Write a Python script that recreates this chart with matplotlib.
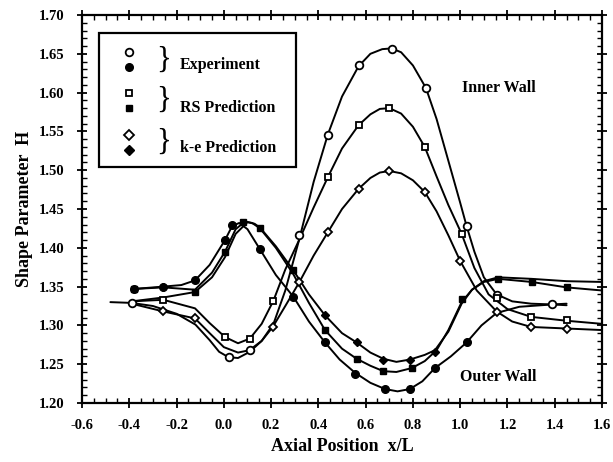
import matplotlib
matplotlib.use("Agg")
import matplotlib.pyplot as plt
from matplotlib.patches import Rectangle
from matplotlib.ticker import MultipleLocator, FormatStrFormatter

plt.rcParams['font.family'] = ['Liberation Serif', 'DejaVu Serif']

# ---------------- curves ----------------
# Inner wall (open markers)
in_exp_x = [-0.48, -0.39, -0.30, -0.20, -0.12, -0.06, -0.02, 0.02, 0.06, 0.11, 0.16, 0.21, 0.26, 0.32, 0.38, 0.44,
            0.50, 0.57, 0.62, 0.67, 0.71, 0.75, 0.80, 0.855, 0.90, 0.95, 1.00, 1.027, 1.06, 1.10, 1.154, 1.22, 1.30, 1.39, 1.45]
in_exp_y = [1.330, 1.329, 1.325, 1.315, 1.301, 1.281, 1.266, 1.259, 1.258, 1.266, 1.280, 1.302, 1.345, 1.412, 1.485, 1.546,
            1.595, 1.634, 1.650, 1.656, 1.657, 1.652, 1.635, 1.606, 1.566, 1.512, 1.458, 1.428, 1.395, 1.362, 1.340, 1.331, 1.328, 1.327, 1.326]
in_exp_mx = [-0.39, 0.02, 0.11, 0.32, 0.44, 0.57, 0.71, 0.855, 1.027, 1.154, 1.39]
in_exp_my = [1.329, 1.259, 1.268, 1.416, 1.546, 1.636, 1.656, 1.606, 1.428, 1.339, 1.327]

in_rs_x = [-0.39, -0.256, -0.122, -0.06, 0.005, 0.06, 0.11, 0.16, 0.21, 0.26, 0.32, 0.38, 0.44, 0.50, 0.57,
           0.62, 0.66, 0.70, 0.75, 0.80, 0.85, 0.90, 0.95, 1.006, 1.06, 1.12, 1.20, 1.30, 1.45, 1.60]
in_rs_y = [1.331, 1.333, 1.322, 1.303, 1.285, 1.277, 1.283, 1.302, 1.332, 1.372, 1.411, 1.452, 1.491, 1.528, 1.558,
           1.572, 1.579, 1.580, 1.573, 1.556, 1.530, 1.492, 1.455, 1.418, 1.374, 1.340, 1.321, 1.311, 1.306, 1.302]
in_rs_mx = [-0.256, 0.005, 0.11, 0.21, 0.44, 0.57, 0.70, 0.85, 1.006, 1.154, 1.30, 1.45]
in_rs_my = [1.333, 1.285, 1.283, 1.332, 1.491, 1.558, 1.580, 1.530, 1.418, 1.335, 1.311, 1.307]

in_ke_x = [-0.39, -0.256, -0.122, -0.06, 0.00, 0.06, 0.108, 0.16, 0.207, 0.26, 0.32, 0.38, 0.44, 0.50, 0.57,
           0.62, 0.66, 0.70, 0.75, 0.80, 0.85, 0.90, 0.95, 1.0, 1.07, 1.154, 1.22, 1.30, 1.45, 1.60]
in_ke_y = [1.328, 1.318, 1.309, 1.290, 1.272, 1.265, 1.268, 1.280, 1.298, 1.325, 1.356, 1.390, 1.420, 1.450, 1.476,
           1.490, 1.497, 1.499, 1.496, 1.487, 1.472, 1.447, 1.416, 1.383, 1.345, 1.318, 1.305, 1.298, 1.296, 1.294]
in_ke_mx = [-0.256, -0.122, 0.207, 0.32, 0.44, 0.57, 0.70, 0.85, 1.0, 1.154, 1.30, 1.45]
in_ke_my = [1.318, 1.309, 1.298, 1.356, 1.420, 1.476, 1.499, 1.472, 1.383, 1.317, 1.298, 1.296]

# Outer wall (filled markers)
out_exp_x = [-0.38, -0.256, -0.18, -0.122, -0.06, 0.005, 0.035, 0.065, 0.10, 0.153, 0.22, 0.294, 0.36, 0.428, 0.49, 0.555,
             0.62, 0.682, 0.735, 0.787, 0.84, 0.893, 0.96, 1.027, 1.09, 1.154, 1.25, 1.39, 1.45]
out_exp_y = [1.347, 1.350, 1.352, 1.358, 1.378, 1.410, 1.428, 1.432, 1.424, 1.398, 1.365, 1.337, 1.305, 1.278, 1.256, 1.239,
             1.226, 1.218, 1.215, 1.218, 1.228, 1.245, 1.260, 1.278, 1.300, 1.316, 1.324, 1.327, 1.328]
out_exp_mx = [-0.38, -0.256, -0.122, 0.005, 0.033, 0.153, 0.294, 0.428, 0.555, 0.682, 0.787, 0.893, 1.027]
out_exp_my = [1.347, 1.350, 1.358, 1.410, 1.429, 1.398, 1.337, 1.278, 1.238, 1.218, 1.218, 1.245, 1.278]

out_rs_x = [-0.38, -0.256, -0.122, -0.05, 0.005, 0.05, 0.09, 0.12, 0.153, 0.22, 0.294, 0.36, 0.428, 0.50, 0.562,
            0.62, 0.675, 0.73, 0.795, 0.85, 0.90, 0.95, 1.006, 1.05, 1.10, 1.161, 1.302, 1.45, 1.60]
out_rs_y = [1.347, 1.349, 1.346, 1.368, 1.395, 1.424, 1.434, 1.432, 1.425, 1.400, 1.366, 1.329, 1.294, 1.270, 1.257,
            1.248, 1.241, 1.240, 1.245, 1.254, 1.268, 1.294, 1.330, 1.346, 1.356, 1.360, 1.356, 1.349, 1.345]
out_rs_mx = [-0.38, -0.122, 0.005, 0.082, 0.153, 0.294, 0.428, 0.562, 0.675, 0.795, 1.006, 1.161, 1.302, 1.45]
out_rs_my = [1.347, 1.343, 1.395, 1.433, 1.425, 1.371, 1.294, 1.257, 1.241, 1.245, 1.334, 1.360, 1.356, 1.349]

out_ke_x = [-0.39, -0.256, -0.122, -0.05, 0.005, 0.05, 0.10, 0.13, 0.153, 0.22, 0.294, 0.36, 0.428, 0.50, 0.562,
            0.62, 0.675, 0.73, 0.787, 0.85, 0.893, 0.95, 1.006, 1.05, 1.10, 1.161, 1.302, 1.45, 1.60]
out_ke_y = [1.331, 1.336, 1.343, 1.362, 1.388, 1.418, 1.433, 1.431, 1.426, 1.402, 1.371, 1.340, 1.313, 1.290, 1.278,
            1.265, 1.257, 1.253, 1.256, 1.262, 1.268, 1.292, 1.328, 1.346, 1.357, 1.362, 1.360, 1.357, 1.356]
out_ke_mx = [-0.256, 0.005, 0.428, 0.562, 0.675, 0.787, 0.893]
out_ke_my = [1.349, 1.410, 1.313, 1.278, 1.256, 1.256, 1.266]

x_ticks = [-0.6, -0.4, -0.2, 0.0, 0.2, 0.4, 0.6, 0.8, 1.0, 1.2, 1.4, 1.6]
y_ticks = [1.20, 1.25, 1.30, 1.35, 1.40, 1.45, 1.50, 1.55, 1.60, 1.65, 1.70]

legend_labels = ["Experiment", "RS Prediction", "k-e Prediction"]
wall_labels = ["Inner Wall", "Outer Wall"]

# ---------------- figure ----------------
fig = plt.figure(figsize=(6.13, 4.62), dpi=100)
ax = fig.add_axes([0.1338, 0.1277, 0.8483, 0.8398])

lw = 1.4
ms = 5.5
for cx, cy in [(in_exp_x, in_exp_y), (in_rs_x, in_rs_y), (in_ke_x, in_ke_y),
               (out_exp_x, out_exp_y), (out_rs_x, out_rs_y), (out_ke_x, out_ke_y)]:
    ax.plot(cx, cy, color='black', lw=lw, zorder=2, solid_joinstyle='round', solid_capstyle='round')

open_kw = dict(ls='none', mfc='white', mec='black', mew=1.3)
fill_kw = dict(ls='none', mfc='black', mec='black', mew=1.0)
ax.plot(in_exp_mx, in_exp_my, marker='o', ms=ms, zorder=3, **open_kw)
ax.plot(in_rs_mx, in_rs_my, marker='s', ms=ms - 0.5, zorder=3, **open_kw)
ax.plot(in_ke_mx, in_ke_my, marker='D', ms=ms - 1, zorder=3, **open_kw)
ax.plot(out_exp_mx, out_exp_my, marker='o', ms=ms, zorder=3, **fill_kw)
ax.plot(out_rs_mx, out_rs_my, marker='s', ms=ms - 0.5, zorder=3, **fill_kw)
ax.plot(out_ke_mx, out_ke_my, marker='D', ms=ms - 1, zorder=3, **fill_kw)

ax.set_xlim(-0.6, 1.6)
ax.set_ylim(1.20, 1.70)
ax.set_xticks(x_ticks)
ax.set_yticks(y_ticks)
ax.xaxis.set_major_formatter(FormatStrFormatter('%.1f'))
ax.yaxis.set_major_formatter(FormatStrFormatter('%.2f'))
ax.xaxis.set_minor_locator(MultipleLocator(0.05))
ax.yaxis.set_minor_locator(MultipleLocator(0.01))
ax.tick_params(which='major', direction='inout', length=7, width=1.3,
               top=True, right=True, labelsize=10.5)
ax.tick_params(axis='x', which='major', pad=8)
ax.tick_params(axis='y', which='major', pad=9)
ax.tick_params(which='minor', direction='in', length=3.5, width=1.0, top=True, right=True)
for lab in ax.get_xticklabels() + ax.get_yticklabels():
    lab.set_fontweight('bold')
for s in ax.spines.values():
    s.set_linewidth(1.6)

ax.set_xlabel("Axial Position  x/L", fontsize=13, fontweight='bold', labelpad=4)
ax.set_ylabel("Shape Parameter  H", fontsize=13, fontweight='bold', labelpad=4)

# legend drawn manually
ax.add_patch(Rectangle((0.0327, 0.608), 0.3788, 0.3456, transform=ax.transAxes,
                       fill=True, facecolor='white', edgecolor='black', lw=1.6, zorder=4))
lx = 0.0904
leg_marks = [(0.9046, 'o', ms, open_kw), (0.8660, 'o', ms, fill_kw),
             (0.7990, 's', ms - 0.5, open_kw), (0.7603, 's', ms - 0.5, fill_kw),
             (0.6907, 'D', ms - 0.5, open_kw), (0.6520, 'D', ms - 0.5, fill_kw)]
for ly, mk, msz, kw in leg_marks:
    ax.plot([lx], [ly], transform=ax.transAxes, marker=mk, ms=msz, clip_on=False, zorder=5, **kw)

for yb, yt, lab in [(0.884, 0.871, legend_labels[0]), (0.779, 0.760, legend_labels[1]), (0.671, 0.657, legend_labels[2])]:
    ax.text(0.156, yb, "}", transform=ax.transAxes, fontsize=22, ha='center', va='center', zorder=5)
    ax.text(0.188, yt, lab, transform=ax.transAxes, fontsize=11.5, fontweight='bold', ha='left', va='center', zorder=5)

ax.text(0.731, 0.812, wall_labels[0], transform=ax.transAxes, fontsize=11.5, fontweight='bold', ha='left', va='center')
ax.text(0.727, 0.067, wall_labels[1], transform=ax.transAxes, fontsize=11.5, fontweight='bold', ha='left', va='center')

fig.savefig("out.png", dpi=100)
